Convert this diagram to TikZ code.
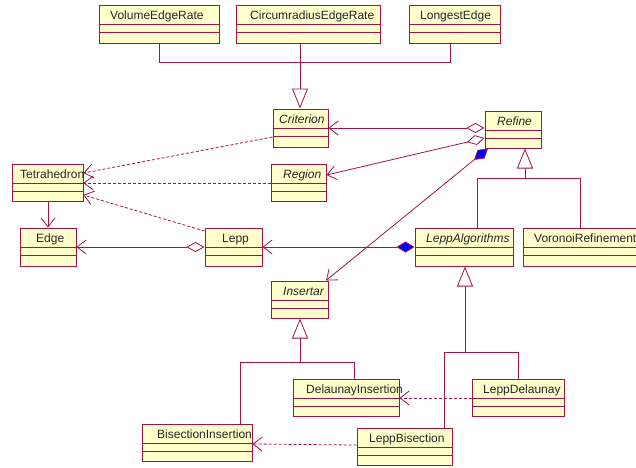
\documentclass[tikz,border=0pt]{standalone}
\usepackage{fontspec}
\setmainfont{Liberation Sans}
\usetikzlibrary{arrows.meta,fit}
\definecolor{umlline}{RGB}{160,20,70}
\definecolor{umlfill}{RGB}{255,255,204}
\tikzset{
  clsbox/.style={draw=umlline, fill=umlfill, line width=1pt, inner sep=0pt},
  cline/.style={draw=umlline, line width=0.8pt},
  clstext/.style={anchor=base west, inner sep=0pt, font=\fontsize{12}{14}\selectfont, text=black!85},
  rel/.style={draw=umlline, line width=0.8pt},
  nav/.style={rel, -{Straight Barb[length=9pt,width=14pt]}},
  dep/.style={nav, dash pattern=on 3pt off 2pt},
  gen/.style={rel, -{Triangle[open,fill=white,length=20pt,width=16pt]}},
  aggr/.style={rel, {Diamond[open,fill=white,length=18pt,width=10pt]}-{Straight Barb[length=9pt,width=14pt]}},
  comp/.style={rel, {Diamond[fill=blue,length=18pt,width=11pt]}-{Straight Barb[length=9pt,width=14pt]}}
}
\newcommand\umlcls[7]{%
  \path (#2,#3) coordinate (#1-nw) (#4,#5) coordinate (#1-se);
  \node[clsbox, fit=(#1-nw)(#1-se)] (#1) {};
  \draw[cline] (#2,{#3+19}) -- (#4,{#3+19}) (#2,{#3+27}) -- (#4,{#3+27});
  \node[clstext] (#1-t) at (#6,{#3+14}) {#7};
}
\begin{document}
\begin{tikzpicture}[x=1pt,y=-1pt]
\useasboundingbox (0,0) rectangle (636,467);
\clip (0,0) rectangle (636,467);
\fill[white] (0,0) rectangle (636,467);
% classes
\umlcls{VER}{99}{5}{219}{43}{110}{VolumeEdgeRate}
\umlcls{CER}{236}{5}{380}{43}{250}{CircumradiusEdgeRate}
\umlcls{LE}{409}{5}{500}{43}{420}{LongestEdge}
\umlcls{Crit}{273}{109}{328}{147}{279}{\itshape Criterion}
\umlcls{Ref}{485}{111}{541}{148}{497}{\itshape Refine}
\umlcls{Reg}{271}{164}{326}{201}{283}{\itshape Region}
\umlcls{Tet}{12}{164}{83}{201}{20}{Tetrahedron}
\umlcls{Edge}{20}{228}{76}{266}{36}{Edge}
\umlcls{Lepp}{205}{228}{262}{266}{222}{Lepp}
\umlcls{LA}{415}{228}{513}{266}{426}{\itshape LeppAlgorithms}
\umlcls{VR}{523}{228}{660}{266}{534}{VoronoiRefinement}
\umlcls{Ins}{271}{281}{328}{318}{283}{\itshape Insertar}
\umlcls{DI}{293}{379}{399}{416}{306}{DelaunayInsertion}
\umlcls{BI}{142}{424}{252}{461}{157}{BisectionInsertion}
\umlcls{LD}{472}{379}{564}{416}{483}{LeppDelaunay}
\umlcls{LB}{357}{428}{452}{465}{369}{LeppBisection}
% generalization: criteria -> Criterion
\coordinate (g1) at (300,62);
\draw[rel] (VER.south) |- (g1);
\draw[rel] (450,0 |- LE.south) |- (g1);
\draw[rel] (300,0 |- CER.south) -- (g1);
\draw[gen] (g1) -- (300,0 |- Crit.north);
% generalization: LeppAlgorithms, VoronoiRefinement -> Refine
\coordinate (g2) at (525,178);
\draw[rel] (477,0 |- LA.north) |- (580,178) -- (580,0 |- VR.north);
\draw[gen] (g2) -- (525,0 |- Ref.south);
% generalization: DelaunayInsertion, BisectionInsertion -> Insertar
\coordinate (g3) at (300,362);
\draw[rel] (240,0 |- BI.north) |- (354,362) -- (354,0 |- DI.north);
\draw[gen] (g3) -- (300,0 |- Ins.south);
% generalization: LeppDelaunay, LeppBisection -> LeppAlgorithms
\coordinate (g4) at (465,352);
\draw[rel] (444,0 |- LB.north) |- (518,352) -- (518,0 |- LD.north);
\draw[gen] (g4) -- (465,0 |- LA.south);
% associations
\draw[aggr] (Ref.west |- 0,128) -- (Crit.east |- 0,128);
\draw[aggr] (Ref.west |- 0,138) -- (Reg.east |- 0,175);
\draw[comp] (488,0 |- Ref.south) -- (326,0 |- Ins.north);
\draw[comp] (LA.west |- 0,247) -- (Lepp.east |- 0,247);
\draw[aggr] (Lepp.west |- 0,247) -- (Edge.east |- 0,247);
\draw[nav] (48,0 |- Tet.south) -- (48,0 |- Edge.north);
% dependencies
\draw[dep] (Crit.west |- 0,137) -- (Tet.east |- 0,173);
\draw[dep] (Reg.west |- 0,183) -- (Tet.east |- 0,183);
\draw[dep] (Lepp.west |- 0,231) -- (Tet.east |- 0,195);
\draw[dep] (LD.west |- 0,398) -- (DI.east |- 0,398);
\draw[dep] (LB.west |- 0,445) -- (BI.east |- 0,444);
\end{tikzpicture}
\end{document}
